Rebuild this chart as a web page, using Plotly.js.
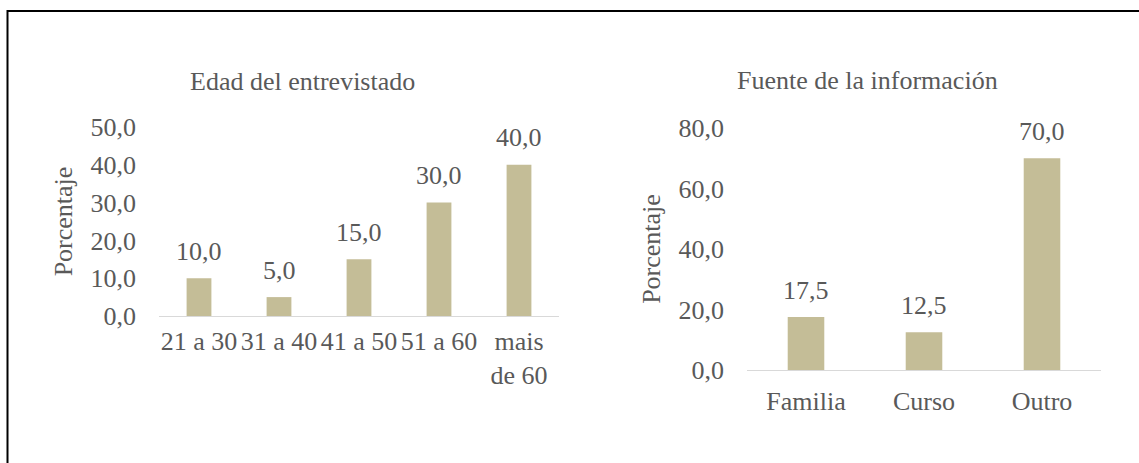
<!DOCTYPE html>
<html>
<head>
<meta charset="utf-8">
<script src="https://cdn.plot.ly/plotly-3.0.1.min.js"></script>
<style>html,body{margin:0;padding:0;background:#fff;}#chart{width:1139px;height:463px;}</style>
</head>
<body>
<div id="chart"></div>
<script>
const ageCategories = ['21 a 30', '31 a 40', '41 a 50', '51 a 60', 'mais<br>de 60'];
const ageValues = [10.0, 5.0, 15.0, 30.0, 40.0];
const sourceCategories = ['Familia', 'Curso', 'Outro'];
const sourceValues = [17.5, 12.5, 70.0];
const ageTicks = [0, 10, 20, 30, 40, 50];
const sourceTicks = [0, 20, 40, 60, 80];
const titleLeft = 'Edad del entrevistado';
const titleRight = 'Fuente de la información';
const yTitle = 'Porcentaje';

const FONT = 'Liberation Serif';
const GRAY = '#595959';
const BAR = '#c4bd97';
const FS = 26;

function fmt(v){ return v.toFixed(1).replace('.', ','); }

const traces = [
  {type:'bar', x: ageCategories, y: ageValues, xaxis:'x', yaxis:'y',
   marker:{color:BAR}, hoverinfo:'none'},
  {type:'bar', x: sourceCategories, y: sourceValues, xaxis:'x2', yaxis:'y2',
   marker:{color:BAR}, hoverinfo:'none'}
];

const annotations = [];
ageCategories.forEach((c,i)=>annotations.push({xref:'x', yref:'y', x:c, y:ageValues[i], text:fmt(ageValues[i]),
  showarrow:false, yanchor:'middle', yshift:27, font:{family:FONT, size:FS, color:GRAY}}));
sourceCategories.forEach((c,i)=>annotations.push({xref:'x2', yref:'y2', x:c, y:sourceValues[i], text:fmt(sourceValues[i]),
  showarrow:false, yanchor:'middle', yshift:27, font:{family:FONT, size:FS, color:GRAY}}));
annotations.push({xref:'paper', yref:'paper', x:302/1139, y:1-82/463, text:titleLeft, showarrow:false,
  xanchor:'center', yanchor:'middle', font:{family:FONT, size:FS, color:GRAY}});
annotations.push({xref:'paper', yref:'paper', x:867/1139, y:1-80/463, text:titleRight, showarrow:false,
  xanchor:'center', yanchor:'middle', font:{family:FONT, size:FS, color:GRAY}});

const xbase = {type:'category', showgrid:false, zeroline:false, showline:true, linecolor:'#d9d9d9', linewidth:1,
  ticks:'', tickangle:0, tickfont:{family:FONT, size:FS, color:GRAY}, fixedrange:true};
const ybase = {showgrid:false, zeroline:false, showline:false, ticks:'', tickformat:'.1f',
  tickfont:{family:FONT, size:FS, color:GRAY}, ticklabelstandoff:22, fixedrange:true,
  title:{text:yTitle, font:{family:FONT, size:FS, color:GRAY}, standoff:10}};

const layout = {
  width:1139, height:463, margin:{l:0,r:0,t:0,b:0},
  paper_bgcolor:'#fff', plot_bgcolor:'#fff', showlegend:false, separators:',.',
  bargap:0.69,
  xaxis: Object.assign({}, xbase, {domain:[159/1139, 559/1139], anchor:'y', ticklabelstandoff:2}),
  yaxis: Object.assign({}, ybase, {domain:[(463-316)/463, (463-127)/463], anchor:'x', range:[0,50], tickvals:ageTicks}),
  xaxis2: Object.assign({}, xbase, {domain:[747/1139, 1101/1139], anchor:'y2', ticklabelstandoff:8}),
  yaxis2: Object.assign({}, ybase, {domain:[(463-370)/463, (463-128)/463], anchor:'x2', range:[0,80], tickvals:sourceTicks}),
  annotations: annotations,
  shapes:[{type:'rect', xref:'paper', yref:'paper', x0:7.5/1139, y0:-0.05, x1:1.05, y1:1-11/463,
    line:{color:'#000', width:2}, fillcolor:'rgba(0,0,0,0)', layer:'above'}]
};

Plotly.newPlot('chart', traces, layout, {staticPlot:true, displayModeBar:false});
</script>
</body>
</html>
